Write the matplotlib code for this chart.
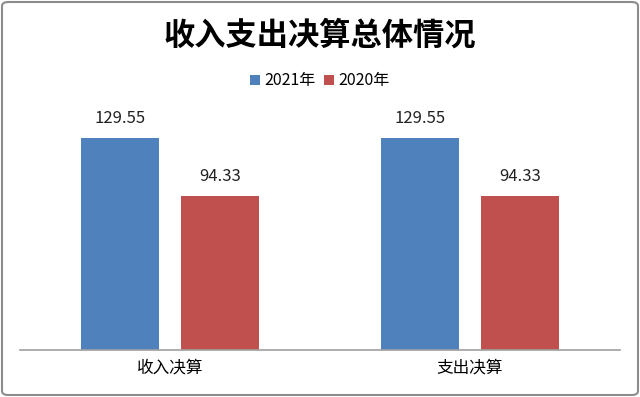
import matplotlib.pyplot as plt
import numpy as np
from matplotlib.patches import FancyBboxPatch

plt.rcParams['font.family'] = ['Noto Sans CJK SC', 'DejaVu Sans']

# data
categories = ['收入决算', '支出决算']
series_names = ['2021年', '2020年']
values_2021 = [129.55, 129.55]
values_2020 = [94.33, 94.33]
colors = ['#4F81BD', '#C0504D']

W, H = 640, 397
fig = plt.figure(figsize=(W / 100, H / 100), dpi=100)

# axes placed in pixel coords: x 20..620, baseline y=350
ax = fig.add_axes([20 / W, (H - 350) / H, 600 / W, 229 / H])
x = np.arange(len(categories))
bw = 0.26
off = 0.167
b1 = ax.bar(x - off, values_2021, bw, color=colors[0], label=series_names[0])
b2 = ax.bar(x + off, values_2020, bw, color=colors[1], label=series_names[1])

for bars in (b1, b2):
    for r in bars:
        ax.annotate(f'{r.get_height():.2f}', (r.get_x() + r.get_width() / 2, r.get_height()),
                    xytext=(0, 8), textcoords='offset points', ha='center', va='bottom',
                    fontsize=12, color='#222222')

ax.set_xlim(-0.5, 1.5)
ax.set_ylim(0, 140)
ax.set_xticks(x)
ax.set_xticklabels(categories, fontsize=12)
ax.tick_params(axis='x', length=0, pad=7)
ax.set_yticks([])
for s in ['top', 'right', 'left']:
    ax.spines[s].set_visible(False)
ax.spines['bottom'].set_color('#A0A0A0')
ax.spines['bottom'].set_linewidth(1.2)

fig.text(0.5, 1 - 36 / H, '收入支出决算总体情况', ha='center', va='center',
         fontsize=22.5, fontweight='bold')

fig.legend(handles=[b1, b2], labels=series_names, loc='center',
           bbox_to_anchor=(0.5, 1 - 81 / H), ncol=2, frameon=False, fontsize=11.5,
           handlelength=0.6, handleheight=0.6, handletextpad=0.3, columnspacing=0.5)

# outer border
border = FancyBboxPatch((2 / W, 2 / H), 1 - 4 / W, 1 - 4 / H,
                        boxstyle='round,pad=0,rounding_size=0.01',
                        transform=fig.transFigure, fill=False,
                        edgecolor='#8C8C8C', linewidth=1.5)
fig.patches.append(border)

fig.savefig('out.png', dpi=100)
